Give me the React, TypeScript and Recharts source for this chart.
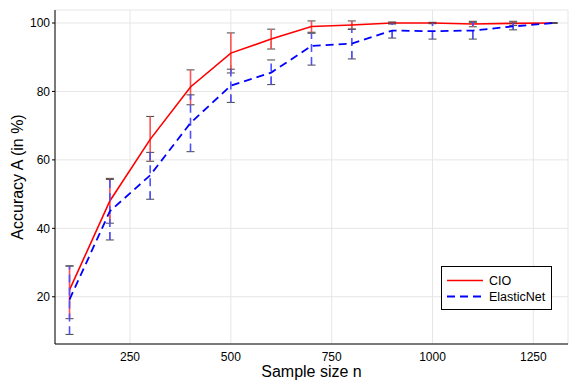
import React from 'react';
import { LineChart, Line, XAxis, YAxis, CartesianGrid, ErrorBar, Label } from 'recharts';

const sampleSizes = [100, 200, 300, 400, 500, 600, 700, 800, 900, 1000, 1100, 1200, 1300];

const cioMean = [22, 48, 66, 81.3, 91.2, 95.3, 99, 99.4, 100, 100, 99.7, 99.9, 100];
const cioLow = [13.6, 41.5, 59.6, 76.1, 85.4, 92.4, 97.3, 98.2, 99.7, 99.8, 98.9, 99.3, 100];
const cioHigh = [29, 54.6, 72.7, 86.3, 97.1, 98.2, 100.6, 100.6, 100.3, 100.2, 100.5, 100.5, 100];

const enetMean = [19.2, 45, 55.5, 70.8, 81.7, 85.5, 93.3, 94, 97.8, 97.6, 97.8, 99, 100];
const enetLow = [9, 36.6, 48.5, 62.4, 76.8, 82, 87.7, 89.5, 95.6, 95.3, 95.3, 98, 100];
const enetHigh = [29, 54.3, 62.2, 79, 86.5, 89.2, 97, 98.2, 100, 100, 100.2, 100, 100];

const xTicks = [250, 500, 750, 1000, 1250];
const yTicks = [20, 40, 60, 80, 100];

const data = sampleSizes.map((n, i) => ({
  n,
  cio: cioMean[i],
  cioErr: [cioMean[i] - cioLow[i], cioHigh[i] - cioMean[i]],
  enet: enetMean[i],
  enetErr: [enetMean[i] - enetLow[i], enetHigh[i] - enetMean[i]],
}));

const font = '"Liberation Sans", Arial, sans-serif';

export default function App() {
  return (
    <div style={{ position: 'relative', width: 581, height: 388, background: '#fff', fontFamily: font }}>
      <style>{'body{margin:0}'}</style>
      <LineChart width={581} height={388} data={data} margin={{ top: 10, right: 13, left: 0, bottom: 0 }}>
        <CartesianGrid stroke="#e6e6e6" strokeWidth={1} vertical horizontal />
        <XAxis
          dataKey="n"
          type="number"
          domain={[64, 1336]}
          ticks={xTicks}
          height={44}
          stroke="#000"
          tickLine={false}
          tick={{ fill: '#000', fontSize: 12, fontFamily: font }}
          allowDataOverflow
        >
          <Label value="Sample size n" position="center" dy={5} style={{ fontSize: 16, fill: '#000', fontFamily: font }} />
        </XAxis>
        <YAxis
          type="number"
          domain={[6.2, 103.8]}
          ticks={yTicks}
          width={55}
          stroke="#000"
          tickSize={3}
          tickMargin={2}
          tick={{ fill: '#000', fontSize: 12, fontFamily: font }}
          allowDataOverflow
        >
          <Label value="Accuracy A (in %)" angle={-90} position="center" dx={-10} style={{ fontSize: 16, fill: '#000', fontFamily: font, textAnchor: 'middle' }} />
        </YAxis>
        {/* grey caps: the dash pattern keeps the 8px caps and hides most of the vertical stroke */}
        <Line dataKey="cio" stroke="none" dot={false} legendType="none" isAnimationActive={false}>
          <ErrorBar dataKey="cioErr" direction="y" width={4} stroke="#444" strokeWidth={1} strokeDasharray="8 2000" />
        </Line>
        <Line dataKey="cio" stroke="#ff0000" strokeWidth={1.6} dot={false} isAnimationActive={false}>
          <ErrorBar dataKey="cioErr" direction="y" width={0} stroke="#ff5050" strokeWidth={1.6} />
        </Line>
        <Line dataKey="enet" stroke="none" dot={false} legendType="none" isAnimationActive={false}>
          <ErrorBar dataKey="enetErr" direction="y" width={4} stroke="#444" strokeWidth={1} strokeDasharray="8 2000" />
        </Line>
        <Line dataKey="enet" stroke="#0000ff" strokeWidth={1.8} strokeDasharray="8 5" dot={false} isAnimationActive={false}>
          <ErrorBar dataKey="enetErr" direction="y" width={0} stroke="#5050ff" strokeWidth={1.6} strokeDasharray="8 5" />
        </Line>
      </LineChart>
      <div
        style={{
          position: 'absolute',
          left: 441,
          top: 266,
          width: 111,
          height: 44,
          border: '1px solid #000',
          background: '#fff',
          boxSizing: 'border-box',
        }}
      >
        <svg width={111} height={44} style={{ position: 'absolute', left: -1, top: -1 }}>
          <line x1={6} x2={42} y1={14.5} y2={14.5} stroke="#ff0000" strokeWidth={1.6} />
          <line x1={6} x2={42} y1={30.5} y2={30.5} stroke="#0000ff" strokeWidth={1.8} strokeDasharray="8 5" />
          <text x={48} y={19} fontSize={12.5} fontFamily={font} fill="#000">CIO</text>
          <text x={48} y={35} fontSize={12.5} fontFamily={font} fill="#000">ElasticNet</text>
        </svg>
      </div>
    </div>
  );
}
